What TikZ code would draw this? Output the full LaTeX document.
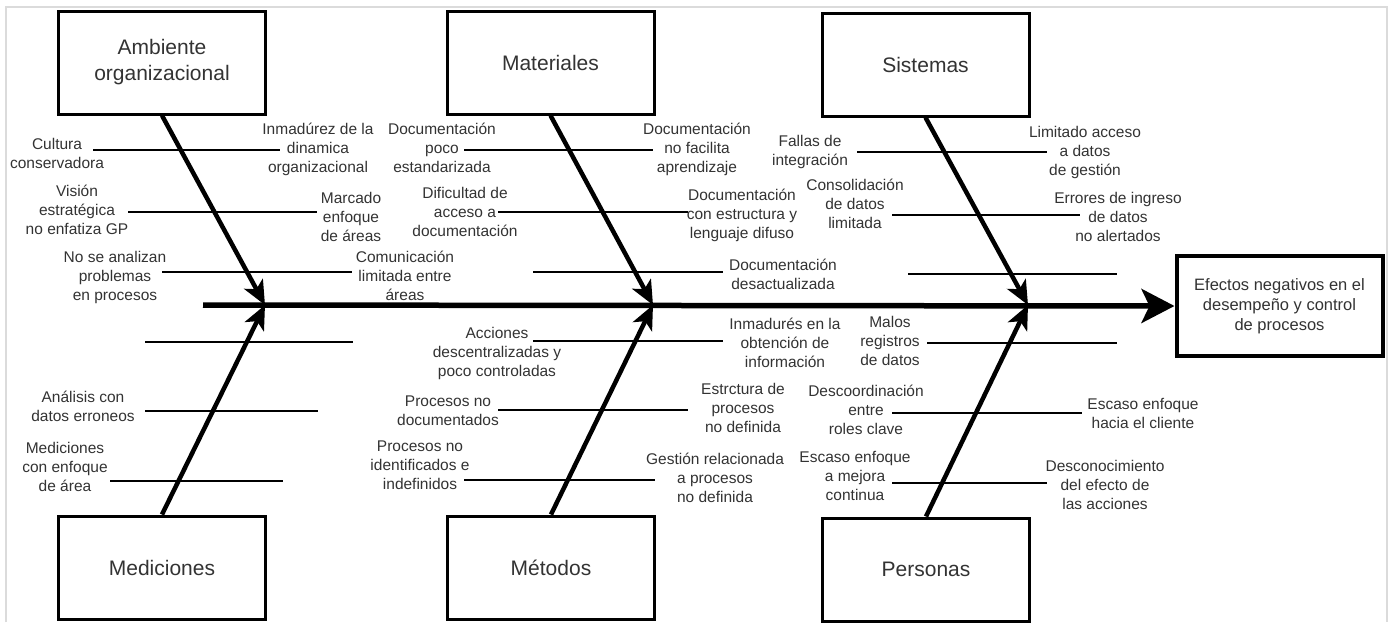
\documentclass[tikz,border=0pt]{standalone}
\usepackage{fontspec}
\setmainfont{Liberation Sans}
\usetikzlibrary{arrows.meta}
\begin{document}
\begin{tikzpicture}[x=1pt,y=-1pt,
  cat/.style={draw=black,line width=3pt,minimum width=207pt,minimum height=103pt,
    font=\fontsize{21}{26}\selectfont,text=black!80,align=center,inner sep=0pt},
  effect/.style={draw=black,line width=4pt,minimum width=206pt,minimum height=100pt,
    font=\fontsize{16.5}{20}\selectfont,text=black!80,align=center,inner sep=0pt},
  lbl/.style={font=\fontsize{15.5}{19}\selectfont,text=black!80,align=center,inner sep=0pt},
  bone/.style={line width=4.5pt,-{Stealth[length=24pt,width=21pt,inset=6pt]}},
  spinearrow/.style={line width=5.5pt,-{Stealth[length=33pt,width=34pt,inset=8pt]}},
  sub/.style={line width=2.6pt},
  frame/.style={draw=black!14,line width=2pt}]
\useasboundingbox (0,0) rectangle (1390,622);
\fill[white] (0,0) rectangle (1390,622);
% outer frame
\draw[frame] (6,622) -- (6,7) -- (1387,7) -- (1387,622);

% category boxes
\node[cat] (amb) at (162,62.5) {Ambiente\\organizacional};
\node[cat] (mat) at (550.5,62.5) {Materiales};
\node[cat] (sis) at (925.5,64.5) {Sistemas};
\node[cat] (med) at (162,567.5) {Mediciones};
\node[cat] (met) at (551,567.5) {Métodos};
\node[cat] (per) at (926,569.5) {Personas};
\node[effect] (eff) at (1279.5,306) {Efectos negativos en el\\desempeño y control\\de procesos};

% spine
\coordinate (s0) at (203,305);
\coordinate (jA) at (265,305);
\coordinate (jB) at (653,305);
\coordinate (jC) at (1028,305);
\draw[spinearrow] (s0) -- (eff.west);

% main bones
\draw[bone] (amb.south) -- (jA);
\draw[bone] (mat.south) -- (jB);
\draw[bone] (sis.south) -- (jC);
\draw[bone] (med.north) -- (jA);
\draw[bone] (met.north) -- (jB);
\draw[bone] (per.north) -- (jC);

% sub-causes: Ambiente organizacional
\coordinate (a1l) at (93,150);  \coordinate (a1r) at (280,150);
\coordinate (a2l) at (128,212); \coordinate (a2r) at (317,212);
\coordinate (a3l) at (162,272); \coordinate (a3r) at (352,272);
\draw[sub] (a1l) -- (a1r);
\draw[sub] (a2l) -- (a2r);
\draw[sub] (a3l) -- (a3r);
\node[lbl] (ta1l) at (57,153) {Cultura\\conservadora};
\node[lbl] (ta1r) at (318,149) {Inmadúrez de la\\dinamica\\organizacional};
\node[lbl] (ta2l) at (77,210) {Visión\\estratégica\\no enfatiza GP};
\node[lbl] (ta2r) at (351,217) {Marcado\\enfoque\\de áreas};
\node[lbl] (ta3l) at (115,277) {No se analizan\\problemas\\en procesos};
\node[lbl] (ta3r) at (405,276) {Comunicación\\limitada entre\\áreas};

% sub-causes: Materiales
\coordinate (b1l) at (464,150); \coordinate (b1r) at (653,150);
\coordinate (b2l) at (498,212); \coordinate (b2r) at (688,212);
\coordinate (b3l) at (533,272); \coordinate (b3r) at (723,272);
\draw[sub] (b1l) -- (b1r);
\draw[sub] (b2l) -- (b2r);
\draw[sub] (b3l) -- (b3r);
\node[lbl] (tb1l) at (442,148) {Documentación\\poco\\estandarizada};
\node[lbl] (tb1r) at (697,149) {Documentación\\no facilita\\aprendizaje};
\node[lbl] (tb2l) at (465,212) {Dificultad de\\acceso a\\documentación};
\node[lbl] (tb2r) at (742,215) {Documentación\\con estructura y\\lenguaje difuso};
\node[lbl] (tb3r) at (783,274) {Documentación\\desactualizada};

% sub-causes: Sistemas
\coordinate (c1l) at (857,152);  \coordinate (c1r) at (1047,152);
\coordinate (c2l) at (892,215);  \coordinate (c2r) at (1080,215);
\coordinate (c3l) at (908,274);  \coordinate (c3r) at (1117,274);
\draw[sub] (c1l) -- (c1r);
\draw[sub] (c2l) -- (c2r);
\draw[sub] (c3l) -- (c3r);
\node[lbl] (tc1l) at (810,152) {Fallas de\\integración};
\node[lbl] (tc1r) at (1085,152) {Limitado acceso\\a datos\\de gestión};
\node[lbl] (tc2l) at (855,204) {Consolidación\\de datos\\limitada};
\node[lbl] (tc2r) at (1118,217) {Errores de ingreso\\de datos\\no alertados};

% sub-causes: Mediciones
\coordinate (d1l) at (145,342); \coordinate (d1r) at (353,342);
\coordinate (d2l) at (145,411); \coordinate (d2r) at (318,411);
\coordinate (d3l) at (110,481); \coordinate (d3r) at (283,481);
\draw[sub] (d1l) -- (d1r);
\draw[sub] (d2l) -- (d2r);
\draw[sub] (d3l) -- (d3r);
\node[lbl] (td2l) at (83,406) {Análisis con\\datos erroneos};
\node[lbl] (td3l) at (65,467) {Mediciones\\con enfoque\\de área};

% sub-causes: Métodos
\coordinate (e1l) at (533,341); \coordinate (e1r) at (723,341);
\coordinate (e2l) at (498,410); \coordinate (e2r) at (688,410);
\coordinate (e3l) at (464,480); \coordinate (e3r) at (655,480);
\draw[sub] (e1l) -- (e1r);
\draw[sub] (e2l) -- (e2r);
\draw[sub] (e3l) -- (e3r);
\node[lbl] (te1l) at (497,353) {Acciones\\descentralizadas y\\poco controladas};
\node[lbl] (te1r) at (785,343) {Inmadurés en la\\obtención de\\información};
\node[lbl] (te2l) at (448,411) {Procesos no\\documentados};
\node[lbl] (te2r) at (743,408) {Estrctura de\\procesos\\no definida};
\node[lbl] (te3l) at (420,465) {Procesos no\\identificados e\\indefinidos};
\node[lbl] (te3r) at (715,478) {Gestión relacionada\\a procesos\\no definida};

% sub-causes: Personas
\coordinate (f1l) at (927,343); \coordinate (f1r) at (1117,343);
\coordinate (f2l) at (892,413); \coordinate (f2r) at (1082,413);
\coordinate (f3l) at (892,483); \coordinate (f3r) at (1047,483);
\draw[sub] (f1l) -- (f1r);
\draw[sub] (f2l) -- (f2r);
\draw[sub] (f3l) -- (f3r);
\node[lbl] (tf1l) at (890,341) {Malos\\registros\\de datos};
\node[lbl] (tf2l) at (866,410) {Descoordinación\\entre\\roles clave};
\node[lbl] (tf2r) at (1143,413) {Escaso enfoque\\hacia el cliente};
\node[lbl] (tf3l) at (855,476) {Escaso enfoque\\a mejora\\continua};
\node[lbl] (tf3r) at (1105,485) {Desconocimiento\\del efecto de\\las acciones};
\end{tikzpicture}
\end{document}
